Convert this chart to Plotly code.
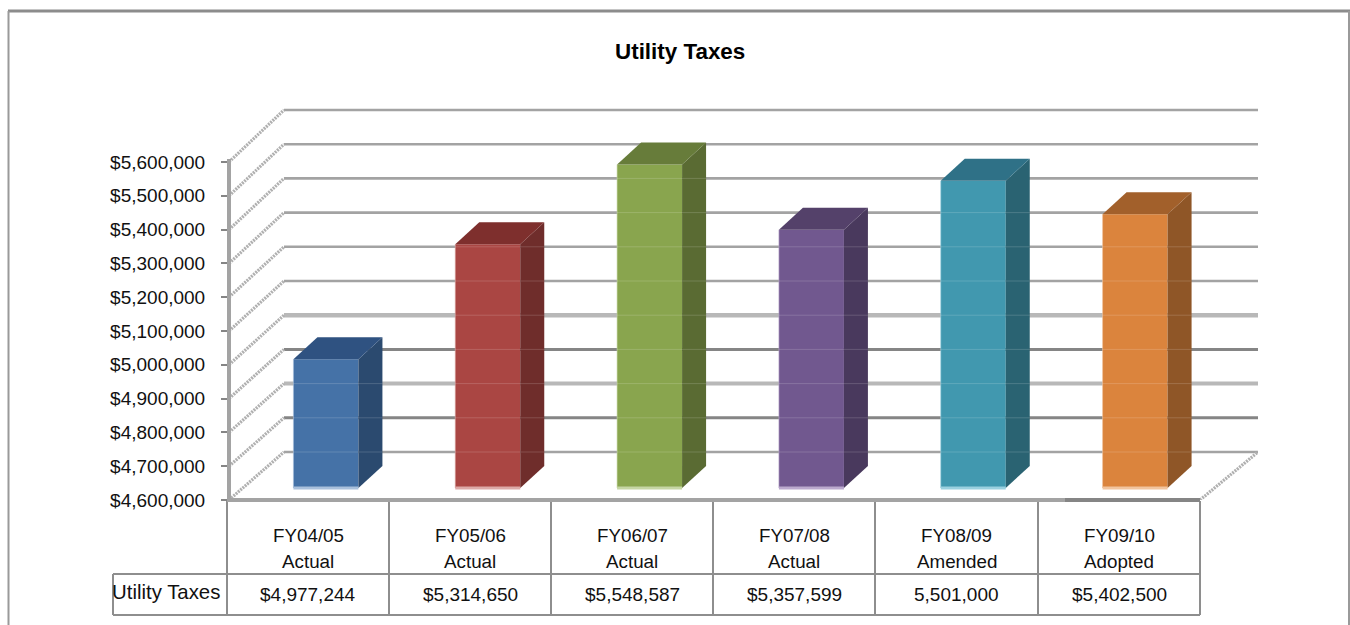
import plotly.graph_objects as go

categories = ["FY04/05<br>Actual", "FY05/06<br>Actual", "FY06/07<br>Actual",
              "FY07/08<br>Actual", "FY08/09<br>Amended", "FY09/10<br>Adopted"]
series_name = "Utility Taxes"
values = [4977244, 5314650, 5548587, 5357599, 5501000, 5402500]
table_labels = ["$4,977,244", "$5,314,650", "$5,548,587", "$5,357,599", "5,501,000", "$5,402,500"]
tick_values = [4600000 + 100000 * i for i in range(11)]
front_colors = ["#4572A7", "#AA4643", "#89A54E", "#71588F", "#4198AF", "#DB843D"]
side_colors = ["#2B4A6F", "#6F2D2B", "#5A6B33", "#49395D", "#2A6372", "#8F5627"]
top_colors = ["#2F5281", "#7E2F2D", "#677C3A", "#54416A", "#2F7187", "#A2602B"]
edge_colors = ["#A9C0DC", "#DDA9A7", "#C5D6A3", "#BBA9CE", "#9AD0DF", "#F2C49E"]

W, H = 1350, 625
X0, X6, XR = 229, 1200, 1258
PT, PB = 100, 500
CAT = (X6 - X0) / 6
FRONT = 33.8 / 100000
BARS = 34.1 / 100000
BACK = 34.2 / 100000
BASE = 4600000
GRAY = "#A3A3A3"
DARK = "#858585"
LIGHT = "#B8B8B8"
BORDER = "#8E8E8E"
FONT = "Liberation Sans"
# rendering differences of the back-wall gridlines, by index from the floor up
grid_style = {1: (DARK, 3), 2: (LIGHT, 4), 3: (DARK, 3), 4: (LIGHT, 4.5)}


def px(x):
    return x / W


def py(y):
    return 1 - y / H


def back_y(v):
    return BASE + (48 + (v - BASE) * BACK) / FRONT


def to_bar_axis(v):
    return BASE + ((v - BASE) * FRONT - 12) / BARS


fig = go.Figure()
back_dx = 55 / CAT
x_max = (XR - X0) / CAT

# walls
for i, v in enumerate(tick_values):
    color, width = grid_style.get(i, (GRAY, 2.6))
    fig.add_trace(go.Scatter(x=[back_dx, x_max], y=[back_y(v)] * 2, mode="lines", cliponaxis=False,
                             line=dict(color=color, width=width), hoverinfo="skip", showlegend=False))
    fig.add_trace(go.Scatter(x=[0, back_dx], y=[v, back_y(v)], mode="lines", cliponaxis=False,
                             line=dict(color="#B0B0B0", width=3.2, dash="2px 1px"),
                             hoverinfo="skip", showlegend=False))
fig.add_trace(go.Scatter(x=[6, x_max], y=[BASE, back_y(BASE)], mode="lines", cliponaxis=False,
                         line=dict(color="#B0B0B0", width=3.2, dash="2px 1px"),
                         hoverinfo="skip", showlegend=False))

# bars
offset = 16 / CAT
bar_w = 65 / CAT
dx = 24 / CAT
dy = 22 / BARS
xs = [i + 0.5 + offset for i in range(6)]
fig.add_trace(go.Bar(x=xs, y=[v - BASE for v in values], base=BASE, width=bar_w, yaxis="y2",
                     marker=dict(color=front_colors, line=dict(width=0)),
                     name=series_name, showlegend=False))
for x, v, side, top, edge in zip(xs, values, side_colors, top_colors, edge_colors):
    l, r = x - bar_w / 2, x + bar_w / 2
    fig.add_trace(go.Scatter(x=[r, r + dx, r + dx, r, r], y=[BASE, BASE + dy, v + dy, v, BASE], yaxis="y2",
                             mode="lines", fill="toself", fillcolor=side, line=dict(width=0),
                             hoverinfo="skip", showlegend=False))
    fig.add_trace(go.Scatter(x=[l, l + dx, r + dx, r, l], y=[v, v + dy, v + dy, v, v], yaxis="y2",
                             mode="lines", fill="toself", fillcolor=top, line=dict(width=0),
                             hoverinfo="skip", showlegend=False))
    fig.add_trace(go.Scatter(x=[l, l], y=[BASE, v], yaxis="y2", mode="lines",
                             line=dict(color=edge, width=1), opacity=0.6, hoverinfo="skip", showlegend=False))
    fig.add_trace(go.Scatter(x=[l, r], y=[BASE, BASE], yaxis="y2", mode="lines", cliponaxis=False,
                             line=dict(color=edge, width=3), hoverinfo="skip", showlegend=False))
    # faint trace of the back-wall gridlines showing through the bars
    for g in tick_values:
        g2 = to_bar_axis(back_y(g))
        if BASE + dy < g2 < v:
            fig.add_trace(go.Scatter(x=[l, r + dx], y=[g2, g2], yaxis="y2", mode="lines",
                                     line=dict(color="rgba(255,255,255,0.16)", width=1),
                                     hoverinfo="skip", showlegend=False))

# table and frame
TBL = [227, 389, 551, 713, 875, 1038, 1200]
shapes = []


def seg(x0, y0, x1, y1, color=BORDER, width=2):
    shapes.append(dict(type="line", xref="paper", yref="paper", x0=px(x0), y0=py(y0), x1=px(x1), y1=py(y1),
                       line=dict(color=color, width=width)))


for x in TBL:
    seg(x, 501, x, 615)
seg(113, 574, 1200, 574)
seg(113, 615, 1200, 615)
seg(113, 574, 113, 615)
seg(229, 159, 229, 500, GRAY, 4)
seg(227, 500, 1065, 500, GRAY, 4)
seg(1065, 500, 1200, 500, DARK, 4)
seg(8, 11, 1350, 11, "#8C8C8C", 3)
seg(8.5, 11, 8.5, 625, "#9A9A9A", 2)
seg(1349, 11, 1349, 625, "#9A9A9A", 2)


def note(text, x, y, size, xanchor="center", color="#111111"):
    return dict(text=text, x=px(x), y=py(y), xref="paper", yref="paper", showarrow=False, align="center",
                xanchor=xanchor, yanchor="middle", font=dict(family=FONT, size=size, color=color))


annotations = [note("<b>Utility Taxes</b>", 680, 52, 22.4, color="#000000")]
for i, (c, t) in enumerate(zip(categories, table_labels)):
    xc = (TBL[i] + TBL[i + 1]) / 2
    first, second = c.split("<br>")
    annotations.append(note(first, xc, 535, 18.8))
    annotations.append(note(second, xc, 561, 18.8))
    annotations.append(note(t, xc, 594, 19))
annotations.append(note(series_name, 222.5, 592, 20.4, "right"))

dom = [1 - PB / H, 1 - PT / H]
fig.update_layout(
    template="none",
    width=W, height=H, margin=dict(l=0, r=0, t=0, b=0, pad=0), paper_bgcolor="white", plot_bgcolor="white",
    showlegend=False, shapes=shapes, annotations=annotations,
    xaxis=dict(domain=[px(X0), px(XR)], range=[0, x_max], visible=False, automargin=False),
    yaxis=dict(domain=dom, range=[BASE, BASE + (PB - PT) / FRONT], tickmode="array", tickvals=tick_values,
               tickformat="$,.0f", showgrid=False, zeroline=False, showline=False, automargin=False,
               ticks="outside", ticklen=7, tickwidth=2, tickcolor=DARK, ticklabelstandoff=12,
               tickfont=dict(family=FONT, size=19, color="#111111")),
    yaxis2=dict(domain=dom, overlaying="y", visible=False, automargin=False,
                range=[BASE - 12 / BARS, BASE + (488 - PT) / BARS]),
)
fig.write_html("out.html", config={"displayModeBar": False},
               post_script="document.body.style.margin='0';document.body.style.overflow='hidden';")
